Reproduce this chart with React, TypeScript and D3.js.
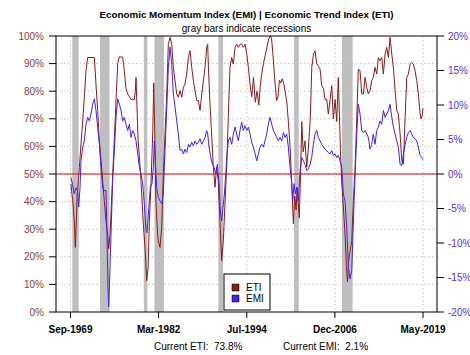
import React from "react";
import * as d3 from "d3";

const titleText = "Economic Momentum Index (EMI) | Economic Trend Index (ETI)";
const subtitleText = "gray bars indicate recessions";
const currentEtiText = "Current ETI:  73.8%";
const currentEmiText = "Current EMI:  2.1%";

const xTickLabels = ["Sep-1969", "Mar-1982", "Jul-1994", "Dec-2006", "May-2019"];
const xTickDates = [1969.67, 1982.08, 1994.5, 2006.92, 2019.33];
const leftTicks = [0, 10, 20, 30, 40, 50, 60, 70, 80, 90, 100];
const rightTicks = [-20, -15, -10, -5, 0, 5, 10, 15, 20];

const recessionStarts = [1969.92, 1973.83, 1980.0, 1981.5, 1990.5, 2001.17, 2007.92];
const recessionEnds = [1970.83, 1975.17, 1980.5, 1982.83, 1991.17, 2001.83, 2009.42];

const etiDates = [
  1969.74, 1969.9, 1970.0, 1970.2, 1970.35, 1970.5, 1970.6, 1970.8, 1970.92, 1971.15, 1971.39, 1971.62, 1971.85,
  1972.09, 1972.5, 1973.03, 1973.26, 1973.5, 1973.73, 1973.97, 1974.2, 1974.43, 1974.67, 1974.9, 1975.05, 1975.24,
  1975.38, 1975.62, 1975.85, 1976.08, 1976.32, 1976.55, 1977.02, 1977.25, 1977.49, 1977.73, 1977.96, 1978.2, 1978.43,
  1978.66, 1978.8, 1978.9, 1979.0, 1979.2, 1979.4, 1979.6, 1979.9, 1980.2, 1980.4, 1980.6, 1980.78, 1981.0, 1981.25,
  1981.4, 1981.55, 1981.7, 1981.95, 1982.04, 1982.28, 1982.52, 1982.75, 1982.98, 1983.2, 1983.45, 1983.69, 1983.93,
  1984.16, 1984.4, 1984.63, 1984.86, 1985.1, 1985.34, 1985.57, 1985.8, 1986.04, 1986.27, 1986.51, 1986.75, 1986.98,
  1987.21, 1987.45, 1987.68, 1987.92, 1988.16, 1988.39, 1988.62, 1988.86, 1989.0, 1989.1, 1989.3, 1989.55, 1989.79,
  1990.03, 1990.25, 1990.48, 1990.72, 1990.97, 1991.2, 1991.45, 1991.67, 1991.9, 1992.14, 1992.38, 1992.61, 1992.85,
  1993.08, 1993.32, 1993.55, 1993.79, 1994.02, 1994.26, 1994.5, 1994.73, 1994.96, 1995.2, 1995.45, 1995.7, 1995.95,
  1996.2, 1996.4, 1996.6, 1996.85, 1997.1, 1997.35, 1997.6, 1997.85, 1998.0, 1998.2, 1998.45, 1998.7, 1998.9, 1999.1,
  1999.3, 1999.5, 1999.7, 1999.9, 2000.15, 2000.36, 2000.6, 2000.84, 2001.07, 2001.25, 2001.45, 2001.6, 2001.9, 2002.1,
  2002.25, 2002.45, 2002.7, 2002.95, 2003.2, 2003.45, 2003.66, 2003.9, 2004.12, 2004.35, 2004.6, 2004.83, 2005.06,
  2005.3, 2005.53, 2005.77, 2006.0, 2006.24, 2006.48, 2006.7, 2006.94, 2007.18, 2007.4, 2007.55, 2007.7, 2007.9,
  2008.11, 2008.35, 2008.55, 2008.7, 2008.85, 2009.05, 2009.29, 2009.52, 2009.76, 2010.0, 2010.22, 2010.46, 2010.7,
  2010.93, 2011.17, 2011.4, 2011.63, 2011.87, 2012.1, 2012.33, 2012.57, 2012.81, 2013.04, 2013.28, 2013.52, 2013.75,
  2013.99, 2014.22, 2014.46, 2014.69, 2014.93, 2015.16, 2015.4, 2015.63, 2015.86, 2016.1, 2016.34, 2016.57, 2016.81,
  2017.04, 2017.27, 2017.51, 2017.74, 2017.98, 2018.21, 2018.45, 2018.68, 2018.92, 2019.06, 2019.2, 2019.33,
];
const etiValues = [
  46.4, 42, 40.3, 33, 23.4, 33, 42, 48, 52.4, 60.9, 69.3, 77.8, 87.4,
  92.2, 92.2, 92.2, 82.6, 73, 62, 54.9, 47.6, 40.3, 33, 28, 23, 28,
  36, 50, 63, 76.6, 90, 92.4, 92.4, 87.4, 81, 79, 78, 77, 77,
  77, 80, 85, 77, 62, 55, 47.6, 33, 22, 11.3, 16, 33, 46, 64.5,
  83, 64, 40, 28, 25.8, 23.4, 30.7, 50, 64.5, 76.6, 97, 99.5, 97,
  88.6, 83.8, 79, 77.8, 80.2, 77.8, 81.4, 82.6, 86.2, 92.2, 94.7, 88.6, 83.8,
  80.2, 76.6, 76.6, 73, 79, 83.8, 88.6, 95.9, 97, 88.6, 76.6, 64.5, 52.4,
  45.2, 52.4, 47.6, 33.1, 18.6, 25.8, 40.3, 52.4, 70.5, 88.6, 92.2, 89.8, 95.9,
  97, 95.9, 97, 97, 95.9, 97, 93.5, 88.6, 82.6, 78, 85, 76, 80,
  75, 82, 86, 90, 93, 96, 99, 100, 99, 93, 84, 76.6, 78, 84,
  83, 84.5, 83, 80, 76, 69, 60, 46, 32, 42, 37, 45, 34, 52,
  69, 58, 62, 52.5, 60, 70, 88.6, 93.5, 94.7, 90, 89, 88, 82,
  81, 77, 77, 71.7, 77, 82, 70, 77, 69, 85, 72, 58.4, 46,
  38, 28, 16, 11, 18.5, 22, 25.8, 40.3, 52.4, 70.5, 88, 87.4, 79,
  79, 85, 81.4, 79, 80.2, 83.8, 85, 88.6, 86.2, 92.2, 91, 92.2, 86.2,
  93.5, 95.9, 92.2, 99.5, 93.5, 88.6, 80.2, 73, 71.8, 64.5, 54.8, 53.6, 70.5,
  85, 86.2, 89.8, 90.4, 89.8, 87.4, 83.8, 79, 71.8, 70, 71, 73.8,
];

const emiDates = [
  1969.74, 1969.95, 1970.2, 1970.44, 1970.68, 1970.82, 1971.01, 1971.15, 1971.39, 1971.62, 1971.85, 1972.09, 1972.32,
  1972.56, 1972.8, 1973.03, 1973.26, 1973.5, 1973.73, 1973.97, 1974.2, 1974.43, 1974.67, 1974.81, 1974.95, 1975.05,
  1975.24, 1975.38, 1975.62, 1975.85, 1976.08, 1976.32, 1976.55, 1976.79, 1977.02, 1977.25, 1977.49, 1977.73, 1977.96,
  1978.2, 1978.43, 1978.66, 1978.9, 1979.14, 1979.37, 1979.6, 1979.84, 1980.07, 1980.31, 1980.45, 1980.69, 1980.92,
  1981.15, 1981.34, 1981.48, 1981.62, 1981.81, 1982.04, 1982.28, 1982.52, 1982.75, 1982.89, 1983.08, 1983.27, 1983.46,
  1983.69, 1983.93, 1984.16, 1984.4, 1984.63, 1984.86, 1985.1, 1985.34, 1985.57, 1985.8, 1986.04, 1986.27, 1986.51,
  1986.75, 1986.98, 1987.21, 1987.45, 1987.68, 1987.92, 1988.16, 1988.39, 1988.62, 1988.86, 1989.0, 1989.19, 1989.43,
  1989.66, 1989.89, 1990.13, 1990.36, 1990.6, 1990.78, 1990.97, 1991.16, 1991.35, 1991.54, 1991.72, 1991.91, 1992.14,
  1992.38, 1992.61, 1992.85, 1993.08, 1993.32, 1993.55, 1993.79, 1994.02, 1994.26, 1994.5, 1994.73, 1994.96, 1995.2,
  1995.43, 1995.67, 1995.9, 1996.13, 1996.37, 1996.6, 1996.84, 1997.07, 1997.31, 1997.54, 1997.78, 1998.02, 1998.25,
  1998.49, 1998.72, 1998.95, 1999.19, 1999.43, 1999.66, 1999.9, 2000.13, 2000.36, 2000.6, 2000.84, 2000.98, 2001.16,
  2001.35, 2001.54, 2001.77, 2002.01, 2002.25, 2002.48, 2002.71, 2002.95, 2003.18, 2003.42, 2003.65, 2003.89, 2004.12,
  2004.36, 2004.59, 2004.83, 2005.06, 2005.3, 2005.53, 2005.77, 2006.0, 2006.24, 2006.48, 2006.7, 2006.94, 2007.18,
  2007.41, 2007.65, 2007.88, 2008.11, 2008.35, 2008.58, 2008.82, 2009.05, 2009.29, 2009.43, 2009.62, 2009.81, 2010.0,
  2010.22, 2010.46, 2010.7, 2010.93, 2011.17, 2011.4, 2011.63, 2011.87, 2012.1, 2012.33, 2012.57, 2012.81, 2013.04,
  2013.28, 2013.52, 2013.75, 2013.99, 2014.22, 2014.46, 2014.69, 2014.93, 2015.16, 2015.4, 2015.63, 2015.86, 2016.1,
  2016.34, 2016.57, 2016.81, 2017.04, 2017.27, 2017.51, 2017.74, 2017.98, 2018.21, 2018.45, 2018.68, 2018.92, 2019.15,
  2019.33,
];
const emiValues = [
  -0.5, -1.5, -2.9, -2.0, -2.4, -4.8, -2.0, 1.9, 3.9, 4.8, 7.2, 8.2, 7.7,
  8.7, 10.1, 10.9, 9.2, 6.8, 4.4, 1.0, -1.9, -2.4, -2.4, -8.7, -16.4, -19.3,
  -13.5, -8.7, -0.5, 3.4, 8.2, 10.9, 10.1, 9.2, 7.7, 8.2, 7.2, 6.3, 7.2,
  5.3, 6.3, 5.8, 4.8, 2.9, 1.0, 0, -1.4, -4.3, -8.2, -8.5, -5.1, -1.9,
  -1.4, 1.0, 4.8, 1.9, -2.0, -3.4, -3.9, -4.3, -2.9, 1.0, 5.8, 10.6, 15.5,
  18.4, 15.9, 11.6, 9.7, 7.7, 5.8, 3.4, 3.6, 2.9, 3.6, 3.1, 4.3, 3.9,
  4.6, 4.1, 4.8, 4.3, 4.6, 5.1, 4.3, 4.8, 5.3, 6.3, 5.8, 3.9, 2.4,
  1.4, 1.0, 0, 1.4, -1.4, -5.3, -6.8, -4.8, -2.9, 0, 2.9, 4.8, 5.3,
  4.3, 5.8, 6.8, 5.8, 4.8, 6.3, 7.5, 6.3, 7.0, 6.3, 6.8, 5.8, 4.6,
  3.9, 3.0, 1.9, 2.9, 3.9, 4.3, 3.9, 4.8, 5.8, 7.2, 8.2, 7.2, 6.3,
  5.8, 5.3, 4.8, 5.3, 4.8, 6.0, 5.3, 5.8, 3.9, 1.0, -1.4, -3.9, -1.4,
  -2.9, -1.9, -3.9, 0.5, 2.4, 1.9, 1.4, 0.5, 0.7, 1.4, 2.4, 4.3, 5.8,
  6.3, 5.3, 4.8, 4.3, 3.9, 3.6, 3.4, 3.1, 2.9, 3.4, 2.7, 2.9, 2.4,
  2.7, 1.9, 1.0, -2.9, -3.9, -7.7, -13.5, -15.2, -14.0, -9.7, -3.9, 1.0, 5.8,
  10.1, 8.7, 6.3, 6.0, 6.3, 5.8, 5.3, 3.6, 4.3, 5.8, 4.3, 6.3, 6.8,
  7.7, 7.2, 9.2, 8.2, 8.7, 9.2, 10.1, 8.2, 6.8, 5.8, 4.8, 3.9, 1.4,
  1.2, 2.9, 4.3, 5.3, 6.0, 6.3, 5.8, 5.3, 5.1, 4.8, 3.9, 2.7, 2.4,
  2.1,
];

const legendLabels = ["ETI", "EMI"];

const W = 470;
const H = 355;
const M = { left: 56, right: 437, top: 36, bottom: 312 };
const FONT = "'Liberation Sans', Arial, Helvetica, sans-serif";
const ETI_COLOR = "#8b1a1a";
const EMI_COLOR = "#4a1cf0";
const LEFT_LABEL = "#8b3a3a";
const RIGHT_LABEL = "#5a2ee6";

export default function App() {
  const x = d3.scaleLinear().domain([xTickDates[0], xTickDates[xTickDates.length - 1]]).range([70.5, 423]);
  const yL = d3.scaleLinear().domain([0, 100]).range([M.bottom, M.top]);
  const yR = d3.scaleLinear().domain([-20, 20]).range([M.bottom, M.top]);

  const etiLine = d3
    .line<number>()
    .x((_, i) => x(etiDates[i]))
    .y((d) => yL(d));
  const emiLine = d3
    .line<number>()
    .x((_, i) => x(emiDates[i]))
    .y((d) => yR(d));

  const cx = (M.left + M.right) / 2;

  return (
    <svg width={W} height={H} style={{ position: "absolute", left: 0, top: 0, background: "#fff" }} fontFamily={FONT}>
      <rect x={0} y={0} width={W} height={H} fill="#fff" />
      <text x={cx} y={18} textAnchor="middle" fontWeight="bold" fontSize={9.8} fill="#000">
        {titleText}
      </text>
      <text x={cx} y={32} textAnchor="middle" fontSize={10} fill="#000">
        {subtitleText}
      </text>

      {recessionStarts.map((s, i) => (
        <rect key={"r" + i} x={x(s)} y={M.top} width={x(recessionEnds[i]) - x(s)} height={M.bottom - M.top} fill="#bebebe" />
      ))}

      {leftTicks.slice(1, -1).map((t) => (
        <line key={"gh" + t} x1={M.left} x2={M.right} y1={yL(t)} y2={yL(t)} stroke="#c4c4c4" strokeDasharray="1.5,2.5" strokeWidth={1} />
      ))}
      {xTickDates.map((d, i) => (
        <line key={"gv" + i} x1={x(d)} x2={x(d)} y1={M.top} y2={M.bottom} stroke="#c4c4c4" strokeDasharray="1.5,2.5" strokeWidth={1} />
      ))}

      <path d={etiLine(etiValues) || ""} fill="none" stroke={ETI_COLOR} strokeWidth={1} />
      <path d={emiLine(emiValues) || ""} fill="none" stroke={EMI_COLOR} strokeWidth={1} />

      <line x1={M.left} x2={M.right} y1={yL(50)} y2={yL(50)} stroke="#cc1111" strokeWidth={1} />

      <rect x={M.left} y={M.top} width={M.right - M.left} height={M.bottom - M.top} fill="none" stroke="#000" strokeWidth={1} />

      {leftTicks.map((t) => (
        <g key={"lt" + t}>
          <line x1={M.left - 7} x2={M.left} y1={yL(t)} y2={yL(t)} stroke="#000" />
          <text x={M.left - 12} y={yL(t) + 3.5} textAnchor="end" fontSize={10} fill={LEFT_LABEL}>
            {t + "%"}
          </text>
        </g>
      ))}
      {rightTicks.map((t) => (
        <g key={"rt" + t}>
          <line x1={M.right} x2={M.right + 7} y1={yR(t)} y2={yR(t)} stroke="#000" />
          <text x={M.right + 11} y={yR(t) + 3.5} textAnchor="start" fontSize={10} fill={RIGHT_LABEL}>
            {t + "%"}
          </text>
        </g>
      ))}
      {xTickDates.map((d, i) => (
        <g key={"xt" + i}>
          <line x1={x(d)} x2={x(d)} y1={M.bottom} y2={M.bottom + 6} stroke="#000" />
          <text x={x(d)} y={333} textAnchor="middle" fontSize={10} fontWeight="bold" fill="#000">
            {xTickLabels[i]}
          </text>
        </g>
      ))}

      <g>
        <rect x={224} y={274} width={46} height={36} fill="#fff" stroke="#000" strokeWidth={1} />
        {legendLabels.map((l, i) => (
          <g key={"lg" + l}>
            <rect x={232} y={284 + i * 11} width={7} height={7} fill={i === 0 ? ETI_COLOR : EMI_COLOR} stroke="#000" strokeWidth={0.5} />
            <text x={246} y={291 + i * 11} fontSize={10} fill="#000">
              {l}
            </text>
          </g>
        ))}
      </g>

      <text x={154} y={350} fontSize={10} fill="#000" xmlSpace="preserve">
        {currentEtiText}
      </text>
      <text x={283} y={350} fontSize={10} fill="#000" xmlSpace="preserve">
        {currentEmiText}
      </text>
    </svg>
  );
}
